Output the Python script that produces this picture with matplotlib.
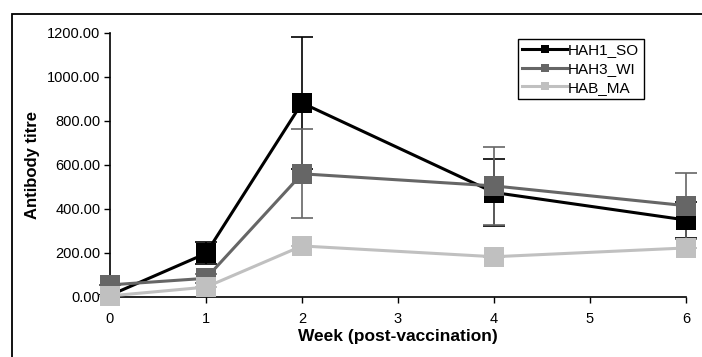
import matplotlib
matplotlib.use("Agg")
import matplotlib.pyplot as plt
from matplotlib.lines import Line2D
from matplotlib.patches import Rectangle

plt.rcParams["font.family"] = ["Liberation Sans", "DejaVu Sans"]

# data
weeks = [0, 1, 2, 4, 6]
series = ["HAH1_SO", "HAH3_WI", "HAB_MA"]
hah1_so = [8, 198, 882, 475, 350]
hah1_so_err = [0, 50, 300, 152, 80]
hah3_wi = [55, 85, 560, 505, 415]
hah3_wi_err = [0, 20, 202, 177, 150]
hab_ma = [5, 45, 232, 183, 223]
hab_ma_err = [0, 0, 0, 0, 0]
yticks = [0, 200, 400, 600, 800, 1000, 1200]
xticks = [0, 1, 2, 3, 4, 5, 6]

colours = ["#000000", "#666666", "#c0c0c0"]
values = [hah1_so, hah3_wi, hab_ma]
errors = [hah1_so_err, hah3_wi_err, hab_ma_err]

fig = plt.figure(figsize=(7.02, 3.57), dpi=100)
ax = fig.add_axes([110 / 702, 1 - 297 / 357, 576 / 702, 264 / 357])

# outer frame (runs off the right and bottom of the picture)
fig.patches.append(Rectangle((12 / 702, -0.2), 1.2, 1 - 14 / 357 + 0.2,
                             transform=fig.transFigure, fill=False,
                             edgecolor="black", linewidth=1.3))

# error bars first, behind everything
for vals, errs, col in zip(values, errors, colours):
    e = ax.errorbar(weeks, vals, yerr=errs, fmt="none", ecolor=col,
                    elinewidth=1.2, capsize=8, capthick=1.2, zorder=1)
    for art in e.lines[1] + e.lines[2]:
        art.set_clip_on(False)

for name, vals, col in zip(series, values, colours):
    ax.plot(weeks, vals, color=col, lw=2.2, marker="s", markersize=15,
            markeredgewidth=0, label=name, zorder=3, clip_on=False)

ax.set_xlim(0, 6)
ax.set_ylim(0, 1200)
ax.set_xticks(xticks)
ax.set_yticks(yticks)
ax.set_yticklabels([f"{v:.2f}" for v in yticks])
ax.tick_params(axis="both", direction="out", length=4, width=1, labelsize=10.5,
               colors="black", pad=3)
ax.tick_params(axis="x", pad=7)
for s in ["top", "right"]:
    ax.spines[s].set_visible(False)
for s in ["left", "bottom"]:
    ax.spines[s].set_linewidth(1.2)

ax.set_xlabel("Week (post-vaccination)", fontsize=12.5, fontweight="bold", labelpad=2)
ax.set_ylabel("Antibody titre", fontsize=12, fontweight="bold", labelpad=5)

# legend with smaller markers than the plot
handles = [Line2D([], [], color=c, lw=2.2, marker="s", markersize=6,
                  markeredgewidth=0) for c in colours]
leg = ax.legend(handles, series, loc="upper left", bbox_to_anchor=(0.708, 0.978),
                fontsize=11, frameon=True, fancybox=False, edgecolor="black",
                framealpha=1, handlelength=2.9, handletextpad=0.1,
                labelspacing=0.3, borderpad=0.3, borderaxespad=0)
leg.get_frame().set_linewidth(1.0)

fig.savefig("out.png", dpi=100)
